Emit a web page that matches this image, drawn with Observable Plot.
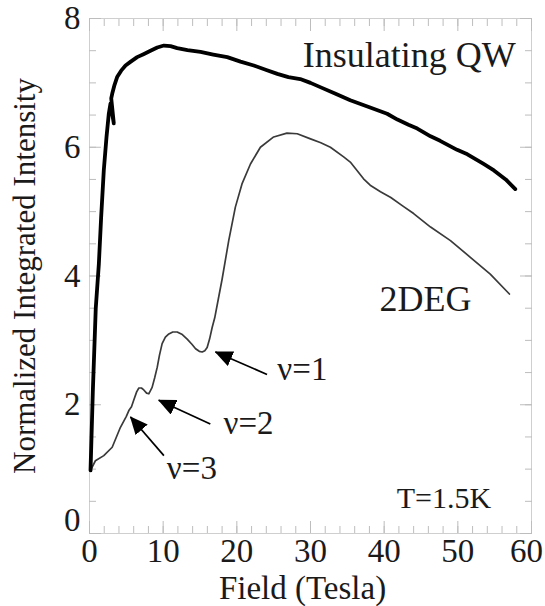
<!DOCTYPE html>
<html>
<head>
<meta charset="utf-8">
<script src="https://cdn.jsdelivr.net/npm/d3@7"></script>
<script src="https://cdn.jsdelivr.net/npm/@observablehq/plot@0.6"></script>
<style>
  html, body { margin: 0; padding: 0; background: #fff; }
  #chart svg, #chart svg text { font-family: 'Liberation Serif', 'Times New Roman', serif !important; }
</style>
</head>
<body>
<div id="chart"></div>
<script>
// Insulating QW (thick curve)
const qwField = [0.14, 0.45, 0.85, 1.27, 1.58, 1.94, 2.31, 2.62, 2.85, 3.3, 2.95, 3.08, 3.4, 3.75, 4.3, 4.89, 5.6, 6.47, 7.4, 8.28, 9.2, 10.1, 11.0, 11.9, 13.3, 15.07, 16.8, 18.7, 20.5, 22.3, 24.0, 25.5, 27.0, 28.6, 30.0, 31.4, 33.4, 35.4, 38.0, 40.4, 41.8, 43.3, 44.5, 46.3, 47.6, 49.9, 51.3, 53.5, 54.9, 56.5, 57.8];
const qwValue = [0.98, 2.2, 3.5, 4.19, 4.91, 5.64, 6.16, 6.52, 6.68, 6.37, 6.76, 6.83, 6.97, 7.09, 7.19, 7.27, 7.33, 7.40, 7.45, 7.50, 7.55, 7.58, 7.57, 7.54, 7.51, 7.48, 7.44, 7.40, 7.33, 7.27, 7.20, 7.14, 7.09, 7.06, 7.00, 6.93, 6.83, 6.73, 6.62, 6.52, 6.43, 6.35, 6.29, 6.17, 6.10, 5.96, 5.89, 5.74, 5.64, 5.50, 5.35];

// 2DEG (thin curve)
const degField = [0.14, 0.8, 1.94, 3.08, 4.2, 5.0, 5.34, 5.7, 6.0, 6.4, 6.7, 7.05, 7.37, 7.75, 8.05, 8.5, 8.85, 9.19, 9.5, 9.86, 10.3, 10.77, 11.3, 11.9, 12.6, 13.26, 13.9, 14.4, 14.9, 15.3, 15.65, 15.97, 16.3, 16.65, 17.0, 17.5, 18.0, 18.9, 19.8, 20.7, 21.85, 23.2, 25.0, 26.8, 28.2, 30.0, 31.4, 32.7, 34.5, 35.4, 36.1, 37.2, 38.1, 39.5, 40.9, 42.5, 44.0, 46.3, 49.0, 51.7, 54.4, 57.0];
const degValue = [0.98, 1.13, 1.21, 1.34, 1.65, 1.82, 1.91, 1.97, 2.07, 2.20, 2.26, 2.26, 2.23, 2.18, 2.17, 2.27, 2.42, 2.58, 2.77, 2.95, 3.05, 3.10, 3.13, 3.13, 3.09, 3.02, 2.94, 2.87, 2.83, 2.82, 2.84, 2.89, 3.02, 3.20, 3.35, 3.65, 3.95, 4.55, 5.07, 5.43, 5.74, 6.00, 6.16, 6.22, 6.21, 6.13, 6.07, 6.00, 5.85, 5.77, 5.67, 5.51, 5.41, 5.31, 5.22, 5.09, 4.97, 4.76, 4.55, 4.29, 4.03, 3.72];

// Filling-factor annotations
const nuLabels = ["ν=1", "ν=2", "ν=3"];
const nuTipX = [17.1, 9.4, 5.57];
const nuTipY = [2.82, 2.07, 1.81];
const nuTailX = [24.1, 16.4, 10.1];
const nuTailY = [2.47, 1.70, 1.21];
const nuTextX = [25.5, 18.2, 10.5];
const nuTextY = [2.38, 1.55, 0.85];

// Curve labels
const curveLabels = ["Insulating QW", "2DEG", "T=1.5K"];
const curveLabelX = [43.4, 45.6, 48.1];
const curveLabelY = [7.24, 3.46, 0.39];

// Ticks
const xMajor = [0, 10, 20, 30, 40, 50, 60];
const xMinor = d3.range(0, 61, 2);
const yMajor = [0, 2, 4, 6, 8];
const yMinor = d3.range(0, 8.01, 0.5);
const yLabels = [2, 4, 6, 8];

const qw = qwField.map((x, i) => ({x, y: qwValue[i]}));
const deg = degField.map((x, i) => ({x, y: degValue[i]}));
const arrows = nuLabels.map((t, i) => ({t, x1: nuTailX[i], y1: nuTailY[i], x2: nuTipX[i], y2: nuTipY[i], tx: nuTextX[i], ty: nuTextY[i]}));
const labels = curveLabels.map((t, i) => ({t, x: curveLabelX[i], y: curveLabelY[i]}));

const FONT = "Liberation Serif";
const INK = "#1a1a1a";
const tickColor = "#bdbdbd";
const blank = () => "";

const chart = Plot.plot({
  width: 545,
  height: 606,
  marginLeft: 89,
  marginRight: 14,
  marginTop: 18,
  marginBottom: 73,
  style: {fontFamily: FONT, background: "#fff", overflow: "visible", color: INK},
  x: {domain: [0, 60]},
  y: {domain: [0, 8]},
  marks: [
    Plot.frame({stroke: "#cfcfcf"}),
    // inward ticks, all four sides
    Plot.axisX({ticks: xMinor, anchor: "bottom", tickSize: 7, dy: -7, tickFormat: blank, label: null, stroke: tickColor}),
    Plot.axisX({ticks: xMajor, anchor: "bottom", tickSize: 12, dy: -12, tickFormat: blank, label: null, stroke: tickColor}),
    Plot.axisX({ticks: xMinor, anchor: "top", tickSize: 7, dy: 7, tickFormat: blank, label: null, stroke: tickColor}),
    Plot.axisX({ticks: xMajor, anchor: "top", tickSize: 12, dy: 12, tickFormat: blank, label: null, stroke: tickColor}),
    Plot.axisY({ticks: yMinor, anchor: "left", tickSize: 7, dx: 7, tickFormat: blank, label: null, stroke: tickColor}),
    Plot.axisY({ticks: yMajor, anchor: "left", tickSize: 12, dx: 12, tickFormat: blank, label: null, stroke: tickColor}),
    Plot.axisY({ticks: yMinor, anchor: "right", tickSize: 7, dx: -7, tickFormat: blank, label: null, stroke: tickColor}),
    Plot.axisY({ticks: yMajor, anchor: "right", tickSize: 12, dx: -12, tickFormat: blank, label: null, stroke: tickColor}),
    // tick labels
    Plot.text(xMajor.slice(0, -1), {x: d => d, frameAnchor: "bottom", lineAnchor: "bottom", dy: 28, text: d => String(d), fontSize: 33, fontFamily: FONT, fill: INK}),
    Plot.text(xMajor.slice(-1), {x: d => d, frameAnchor: "bottom", lineAnchor: "bottom", dy: 28, dx: -5, text: d => String(d), fontSize: 33, fontFamily: FONT, fill: INK}),
    Plot.text(yLabels, {y: d => d, frameAnchor: "left", textAnchor: "end", dx: -9, text: d => String(d), fontSize: 33, fontFamily: FONT, fill: INK}),
    Plot.text([0], {y: d => d, frameAnchor: "left", textAnchor: "end", dx: -9, dy: -13, text: d => String(d), fontSize: 33, fontFamily: FONT, fill: INK}),
    // axis titles
    Plot.text(["Field (Tesla)"], {frameAnchor: "bottom", textAnchor: "middle", lineAnchor: "bottom", dy: 65, dx: -8, text: d => d, fontSize: 33, fontFamily: FONT, fill: INK}),
    Plot.text(["Normalized Integrated Intensity"], {frameAnchor: "left", textAnchor: "middle", rotate: -90, dx: -64, text: d => d, fontSize: 31, fontFamily: FONT, fill: INK}),
    // curves
    Plot.line(deg, {x: "x", y: "y", stroke: "#3a3a3a", strokeWidth: 1.7}),
    Plot.line(qw, {x: "x", y: "y", stroke: "#000", strokeWidth: 3.8}),
    // arrows
    Plot.link(arrows, {x1: "x1", y1: "y1", x2: "x2", y2: "y2", stroke: "#000", strokeWidth: 1.7}),
    Plot.text(arrows, {x: "tx", y: "ty", text: "t", textAnchor: "start", lineAnchor: "bottom", fontSize: 33, fontFamily: FONT, fill: INK}),
    // curve labels
    Plot.text(labels, {x: "x", y: "y", text: "t", textAnchor: "middle", lineAnchor: "bottom", fontSize: d => d.t === "T=1.5K" ? 30 : 36, fontFamily: FONT, fill: INK})
  ]
});

// filled arrowheads on the annotation links
const svg = d3.select(chart.tagName.toLowerCase() === "svg" ? chart : chart.querySelector("svg"));
const defs = svg.insert("defs", ":first-child");
defs.append("marker")
  .attr("id", "filled-arrow")
  .attr("viewBox", "0 0 18 16")
  .attr("markerUnits", "userSpaceOnUse")
  .attr("markerWidth", 18)
  .attr("markerHeight", 16)
  .attr("refX", 17)
  .attr("refY", 8)
  .attr("orient", "auto")
  .append("path")
  .attr("d", "M0,0L18,8L0,16Z")
  .attr("fill", "#000");
svg.selectAll('g[aria-label="link"] path').attr("marker-end", "url(#filled-arrow)");

document.getElementById("chart").appendChild(chart);
</script>
</body>
</html>
